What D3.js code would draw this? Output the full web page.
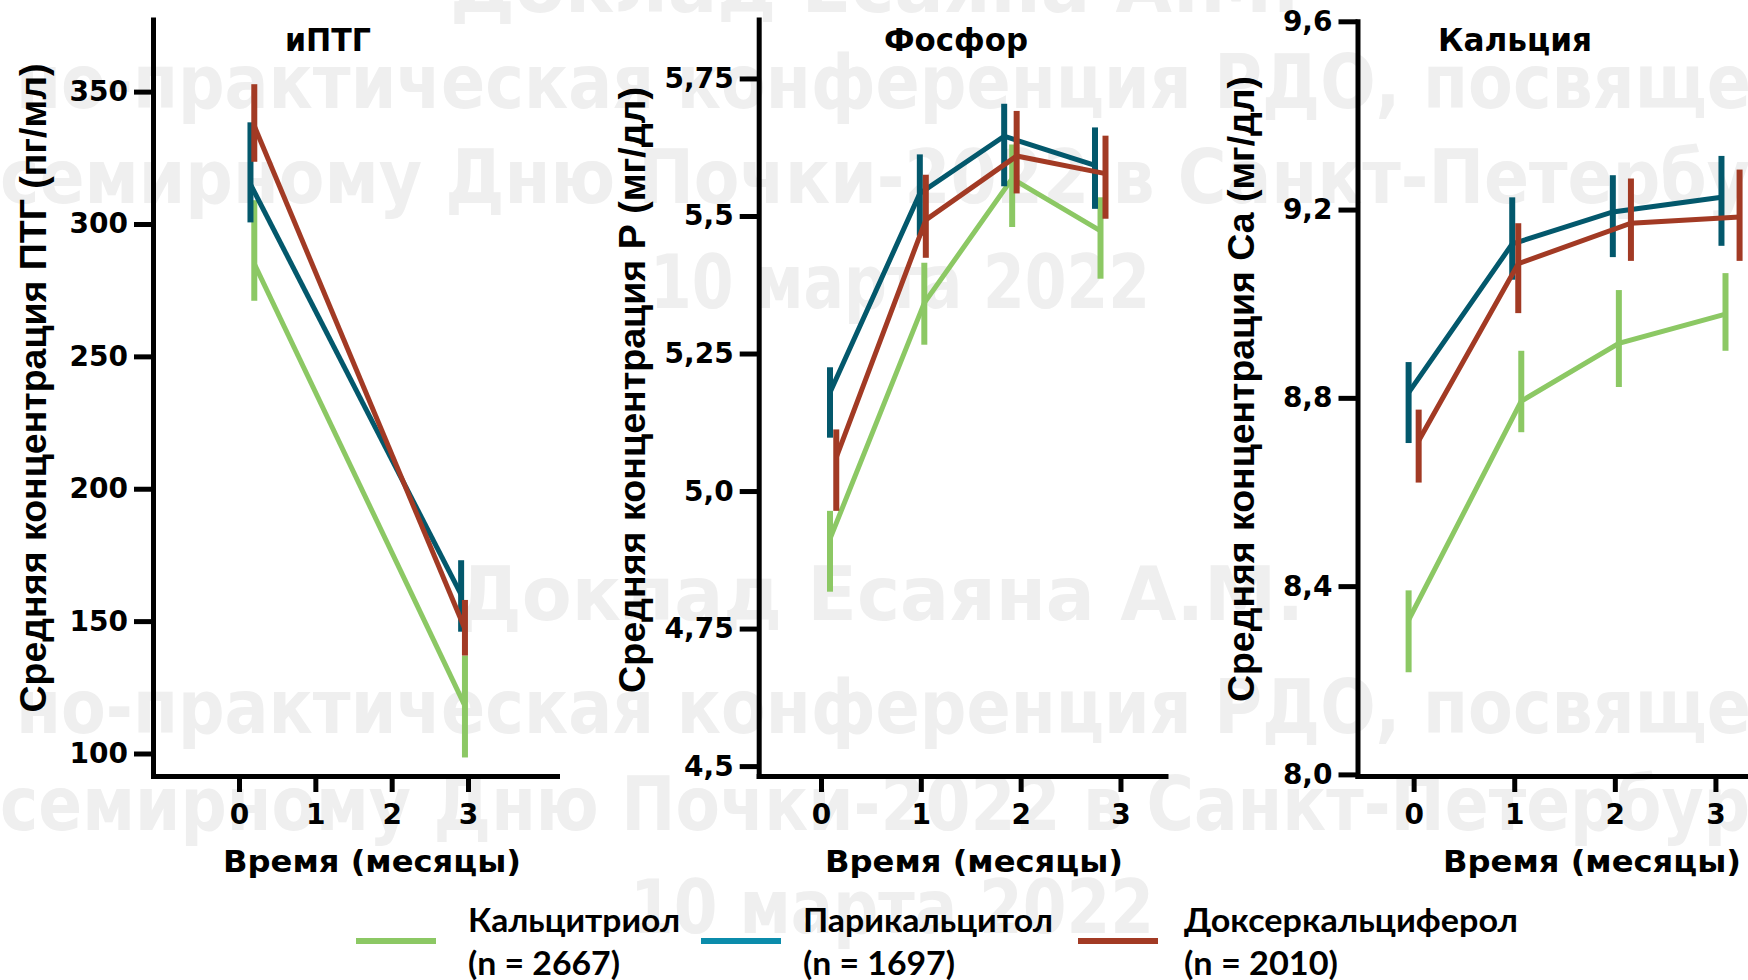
<!DOCTYPE html>
<html>
<head>
<meta charset="utf-8">
<script src="https://cdn.jsdelivr.net/npm/d3@7"></script>
<style>
body { margin: 0; background: #fff; }
svg text { font-family: "DejaVu Sans", Verdana, sans-serif; font-weight: bold; }
</style>
</head>
<body>
<div id="chart"></div>
<script>
// series names and colours
const seriesNames = ["Кальцитриол", "Парикальцитол", "Доксеркальциферол"];
const seriesN = ["(n = 2667)", "(n = 1697)", "(n = 2010)"];
const lineColors = ["#8cc864", "#03586c", "#a23a24"];
const legendColors = ["#8cc864", "#0b8cab", "#a23a24"];

const timeTicks = [0, 1, 2, 3];

// иПТГ, rows: [month (dodged), mean, low, high]
const pthCalcitriol = [[0.2, 285, 271, 309], [2.96, 118, 98.5, 137]];
const pthParicalcitol = [[0.15, 315, 300.6, 338.4], [2.91, 160, 146, 173]];
const pthDoxercalciferol = [[0.2, 337, 323.5, 352.8], [2.96, 147, 137, 158]];
const pthTicks = [100, 150, 200, 250, 300, 350];
const pthTickLabels = ["100", "150", "200", "250", "300", "350"];

// Фосфор
const pCalcitriol = [[0.09, 4.913, 4.817, 4.964], [1.035, 5.342, 5.266, 5.415], [1.915, 5.568, 5.48, 5.63], [2.8, 5.473, 5.386, 5.534]];
const pParicalcitol = [[0.09, 5.179, 5.097, 5.225], [0.99, 5.541, 5.464, 5.612], [1.835, 5.645, 5.554, 5.704], [2.745, 5.592, 5.513, 5.661]];
const pDoxercalciferol = [[0.153, 5.061, 4.964, 5.112], [1.05, 5.493, 5.424, 5.575], [1.96, 5.609, 5.541, 5.691], [2.85, 5.577, 5.495, 5.646]];
const pTicks = [4.5, 4.75, 5.0, 5.25, 5.5, 5.75];
const pTickLabels = ["4,5", "4,75", "5,0", "5,25", "5,5", "5,75"];

// Кальций
const caCalcitriol = [[-0.05, 8.328, 8.217, 8.391], [1.07, 8.793, 8.727, 8.9], [2.04, 8.916, 8.823, 9.029], [3.1, 8.978, 8.9, 9.065]];
const caParicalcitol = [[-0.05, 8.811, 8.704, 8.876], [0.98, 9.127, 9.051, 9.226], [1.98, 9.195, 9.099, 9.273], [3.06, 9.226, 9.123, 9.314]];
const caDoxercalciferol = [[0.05, 8.709, 8.62, 8.775], [1.04, 9.085, 8.98, 9.171], [2.16, 9.171, 9.091, 9.266], [3.24, 9.184, 9.091, 9.285]];
const caTicks = [8.0, 8.4, 8.8, 9.2, 9.6];
const caTickLabels = ["8,0", "8,4", "8,8", "9,2", "9,6"];

const panels = [
  { title: "иПТГ", titleX: 328, titleW: 86,
    ylabel: "Средняя концентрация ПТГ (пг/мл)", ylabelX: 46, ylabelY: 388, ylabelW: 649,
    series: [pthCalcitriol, pthParicalcitol, pthDoxercalciferol],
    yTicks: pthTicks, yTickLabels: pthTickLabels,
    xDomain: [-1.127, 4.166], left: 153, right: 557,
    yDomain: [91.5, 377.2], top: 19.6, xTitleX: 372 },
  { title: "Фосфор", titleX: 956, titleW: 144,
    ylabel: "Средняя концентрация Р (мг/дл)", ylabelX: 645, ylabelY: 390, ylabelW: 606,
    series: [pCalcitriol, pParicalcitol, pDoxercalciferol],
    yTicks: pTicks, yTickLabels: pTickLabels,
    xDomain: [-0.624, 3.451], left: 758.7, right: 1165.5,
    yDomain: [4.482, 5.857], top: 19.6, xTitleX: 974 },
  { title: "Кальция", titleX: 1515, titleW: 154,
    ylabel: "Средняя концентрация Са (мг/дл)", ylabelX: 1254, ylabelY: 389, ylabelW: 626,
    series: [caCalcitriol, caParicalcitol, caDoxercalciferol],
    yTicks: caTicks, yTickLabels: caTickLabels,
    xDomain: [-0.558, 3.443], left: 1357.5, right: 1760,
    yDomain: [7.9966, 9.6], top: 21.3, xTitleX: 1592 }
];

const axisY = 776;

const svg = d3.select("#chart").append("svg")
  .attr("width", 1748).attr("height", 980);

// background watermark: [text, x start, width, baseline]
const watermark = [
  ["Доклад Есаяна А.М.", 450, 850, 12],
  ["но-практическая конференция РДО, посвяще", 16, 1735, 108],
  ["семирному Дню Почки-2022 в Санкт-Петербу", 0, 1750, 203],
  ["10 марта 2022", 650, 500, 308],
  ["Доклад Есаяна А.М.", 457, 847, 620],
  ["но-практическая конференция РДО, посвяще", 16, 1735, 733],
  ["семирному Дню Почки-2022 в Санкт-Петербур", 0, 1750, 830],
  ["10 марта 2022", 630, 524, 933]
];
svg.append("g").selectAll("text").data(watermark).enter().append("text")
  .attr("x", d => d[1])
  .attr("y", d => d[3])
  .attr("textLength", d => d[2])
  .attr("lengthAdjust", "spacingAndGlyphs")
  .attr("font-size", 74)
  .attr("fill", "#efefef")
  .text(d => d[0]);

panels.forEach(p => {
  const x = d3.scaleLinear().domain(p.xDomain).range([p.left, p.right]);
  const y = d3.scaleLinear().domain(p.yDomain).range([axisY, p.top]);
  const g = svg.append("g");

  // axes
  const ya = g.append("g").attr("transform", "translate(" + p.left + ",0)")
    .call(d3.axisLeft(y).tickValues(p.yTicks).tickFormat((d, i) => p.yTickLabels[i])
      .tickSize(19).tickSizeOuter(0).tickPadding(6));
  const xa = g.append("g").attr("transform", "translate(0," + axisY + ")")
    .call(d3.axisBottom(x).tickValues(timeTicks).tickFormat(d3.format("d"))
      .tickSize(16).tickSizeOuter(0).tickPadding(12));
  [ya, xa].forEach(a => {
    a.attr("font-family", null).attr("font-size", null);
    a.select(".domain").attr("stroke", "#000").attr("stroke-width", 5).attr("stroke-linecap", "square");
    a.selectAll(".tick line").attr("stroke", "#000").attr("stroke-width", 5);
    a.selectAll(".tick text").attr("fill", "#000").attr("font-size", 28);
  });

  // lines and error bars
  p.series.forEach((rows, i) => {
    g.append("path").datum(rows)
      .attr("d", d3.line().x(d => x(d[0])).y(d => y(d[1])))
      .attr("fill", "none").attr("stroke", lineColors[i]).attr("stroke-width", 5);
    g.selectAll(null).data(rows).enter().append("line")
      .attr("x1", d => x(d[0])).attr("x2", d => x(d[0]))
      .attr("y1", d => y(d[2])).attr("y2", d => y(d[3]))
      .attr("stroke", lineColors[i]).attr("stroke-width", 6);
  });

  // titles
  g.append("text").attr("x", p.titleX).attr("y", 51).attr("text-anchor", "middle")
    .attr("font-size", 32).attr("textLength", p.titleW).attr("lengthAdjust", "spacingAndGlyphs")
    .text(p.title);
  g.append("text").attr("x", p.xTitleX).attr("y", 872).attr("text-anchor", "middle")
    .attr("font-size", 31).attr("textLength", 298).attr("lengthAdjust", "spacingAndGlyphs")
    .text("Время (месяцы)");
  g.append("text")
    .attr("transform", "translate(" + p.ylabelX + "," + p.ylabelY + ") rotate(-90)")
    .attr("text-anchor", "middle")
    .style("font-family", "'Liberation Sans Narrow', 'Liberation Sans', sans-serif")
    .attr("font-size", 37).attr("textLength", p.ylabelW).attr("lengthAdjust", "spacingAndGlyphs")
    .text(p.ylabel);
});

// legend
const legendLineX = [356, 701, 1078];
const legendTextX = [468, 803, 1184];
const legendW1 = [212, 250, 334];
const legendW2 = [152, 152, 154];
const lg = svg.append("g");
seriesNames.forEach((name, i) => {
  lg.append("line").attr("x1", legendLineX[i]).attr("x2", legendLineX[i] + 80)
    .attr("y1", 941).attr("y2", 941)
    .attr("stroke", legendColors[i]).attr("stroke-width", 6);
  lg.append("text").attr("x", legendTextX[i]).attr("y", 932)
    .style("font-family", "Lato, 'Open Sans', sans-serif").attr("font-size", 32)
    .attr("textLength", legendW1[i]).attr("lengthAdjust", "spacingAndGlyphs")
    .text(name);
  lg.append("text").attr("x", legendTextX[i]).attr("y", 975)
    .style("font-family", "Lato, 'Open Sans', sans-serif").attr("font-size", 32)
    .attr("textLength", legendW2[i]).attr("lengthAdjust", "spacingAndGlyphs")
    .text(seriesN[i]);
});
</script>
</body>
</html>
